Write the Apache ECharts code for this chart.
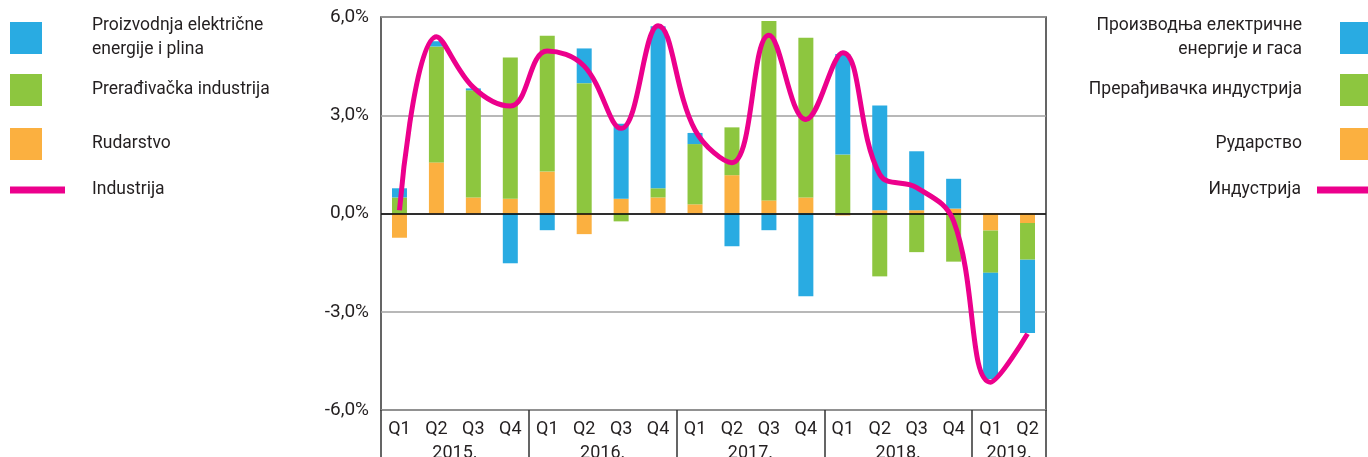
<!DOCTYPE html>
<html>
<head>
<meta charset="utf-8">
<script src="https://cdn.jsdelivr.net/npm/echarts@6/dist/echarts.min.js"></script>
<style>
  html, body { margin: 0; padding: 0; background: #fff; }
  #chart { width: 1368px; height: 457px; }
</style>
</head>
<body>
<div id="chart"></div>
<script>
// data (percent points)
const quarters = ["Q1", "Q2", "Q3", "Q4", "Q1", "Q2", "Q3", "Q4", "Q1", "Q2", "Q3", "Q4", "Q1", "Q2", "Q3", "Q4", "Q1", "Q2"];
const years = ["2015.", "2016.", "2017.", "2018.", "2019."];
const yearOfQuarter = [0, 0, 0, 0, 1, 1, 1, 1, 2, 2, 2, 2, 3, 3, 3, 3, 4, 4];
const yTicks = [-6, -3, 0, 3, 6];

const rudarstvo = [-0.74, 1.56, 0.49, 0.45, 1.28, -0.63, 0.45, 0.49, 0.28, 1.17, 0.40, 0.49, -0.06, 0.10, 0.10, 0.15, -0.52, -0.29];
const preradjivacka = [0.49, 3.54, 3.27, 4.31, 4.15, 3.98, -0.24, 0.28, 1.84, 1.46, 5.48, 4.88, 1.80, -1.92, -1.18, -1.47, -1.29, -1.12];
const energija = [0.28, 0.16, 0.06, -1.52, -0.51, 1.06, 2.29, 4.95, 0.34, -1.00, -0.51, -2.53, 3.07, 3.20, 1.80, 0.91, -3.24, -2.24];
const industrija = [0.1, 5.4, 3.85, 3.28, 4.96, 4.5, 2.6, 5.73, 2.55, 1.55, 5.44, 2.87, 4.91, 1.19, 0.79, -0.23, -5.15, -3.67];

const names = ["Proizvodnja električne\nenergije i plina", "Prerađivačka industrija", "Rudarstvo", "Industrija"];
const namesCyr = ["Производња електричне\nенергије и гаса", "Прерађивачка индустрија", "Рударство", "Индустрија"];

const categories = quarters.map((q, i) => q + " " + years[yearOfQuarter[i]]);

// year label / separator positions on a 0..18 value scale
const yearCenters = [];
const yearEdges = [0];
years.forEach((y, k) => {
  const idx = yearOfQuarter.map((v, i) => (v === k ? i : -1)).filter((i) => i >= 0);
  yearCenters.push((idx[0] + idx[idx.length - 1] + 1) / 2);
  yearEdges.push(idx[idx.length - 1] + 1);
});

const txt = "#231f20";
const font = "Roboto";
const colors = { blue: "#29abe2", green: "#8dc63f", orange: "#fbb040", pink: "#ec008c" };

const myChart = echarts.init(document.getElementById("chart"));

const legendTops = [14, 74, 128, 178];
const legends = [];
names.forEach((n, i) => {
  const isLine = i === 3;
  const common = {
    top: legendTops[i],
    orient: "vertical",
    padding: 0,
    data: [n],
    icon: "rect",
    itemWidth: isLine ? 55 : 32,
    itemHeight: isLine ? 7 : 32,
    selectedMode: false,
  };
  legends.push(Object.assign({}, common, {
    left: 10,
    textStyle: {
      fontFamily: font,
      fontSize: 17.5,
      color: txt,
      lineHeight: 24,
      padding: [0, 0, 0, isLine ? 22 : 45],
    },
  }));
  legends.push(Object.assign({}, common, {
    right: -4,
    align: "right",
    formatter: function (name) {
      return namesCyr[names.indexOf(name)];
    },
    textStyle: {
      fontFamily: font,
      fontSize: 17.5,
      color: txt,
      lineHeight: 24,
      align: "right",
      padding: [0, isLine ? 11 : 33, 0, 0],
    },
  }));
});

const option = {
  animation: false,
  textStyle: { fontFamily: font },
  legend: legends,
  grid: {
    left: 381,
    right: 322,
    top: 17,
    bottom: 47,
    outerBoundsMode: "none",
    containLabel: false,
    show: true,
    borderColor: "#333",
    borderWidth: 1.5,
  },
  xAxis: [
    {
      type: "category",
      data: categories,
      axisLine: { show: false, onZero: false },
      axisTick: { show: false },
      axisLabel: {
        interval: 0,
        margin: 10,
        fontSize: 18,
        color: txt,
        formatter: function (v) {
          return v.split(" ")[0];
        },
      },
    },
    {
      type: "value",
      position: "bottom",
      min: 0,
      max: quarters.length,
      axisLine: { show: false, onZero: false },
      splitLine: { show: false },
      axisTick: {
        show: true,
        inside: false,
        length: 50,
        customValues: yearEdges,
        lineStyle: { color: "#333", width: 1.5 },
      },
      axisLabel: {
        margin: 34,
        fontSize: 18,
        color: txt,
        customValues: yearCenters,
        formatter: function (v) {
          const k = yearCenters.indexOf(v);
          return k >= 0 ? years[k] : "";
        },
      },
    },
  ],
  yAxis: {
    type: "value",
    min: yTicks[0],
    max: yTicks[yTicks.length - 1],
    interval: 3,
    axisLine: { show: false },
    axisTick: { show: false },
    axisLabel: {
      margin: 12,
      fontSize: 19,
      color: txt,
      formatter: function (v) {
        return v.toFixed(1).replace(".", ",") + "%";
      },
    },
    splitLine: { lineStyle: { color: "#a0a0a0", width: 1.5 } },
  },
  series: [
    {
      name: names[2],
      type: "bar",
      stack: "a",
      barWidth: 15,
      itemStyle: { color: colors.orange },
      data: rudarstvo,
      markLine: {
        silent: true,
        symbol: "none",
        label: { show: false },
        lineStyle: { color: "#000", width: 1.5, type: "solid" },
        data: [{ yAxis: 0 }],
        z: 5,
      },
    },
    {
      name: names[1],
      type: "bar",
      stack: "a",
      barWidth: 15,
      itemStyle: { color: colors.green },
      data: preradjivacka,
    },
    {
      name: names[0],
      type: "bar",
      stack: "a",
      barWidth: 15,
      itemStyle: { color: colors.blue },
      data: energija,
    },
    {
      name: names[3],
      type: "line",
      smooth: 0.4,
      showSymbol: false,
      symbol: "none",
      z: 10,
      itemStyle: { color: colors.pink },
      lineStyle: { color: colors.pink, width: 5 },
      data: industrija,
    },
  ],
};

myChart.setOption(option);
</script>
</body>
</html>
